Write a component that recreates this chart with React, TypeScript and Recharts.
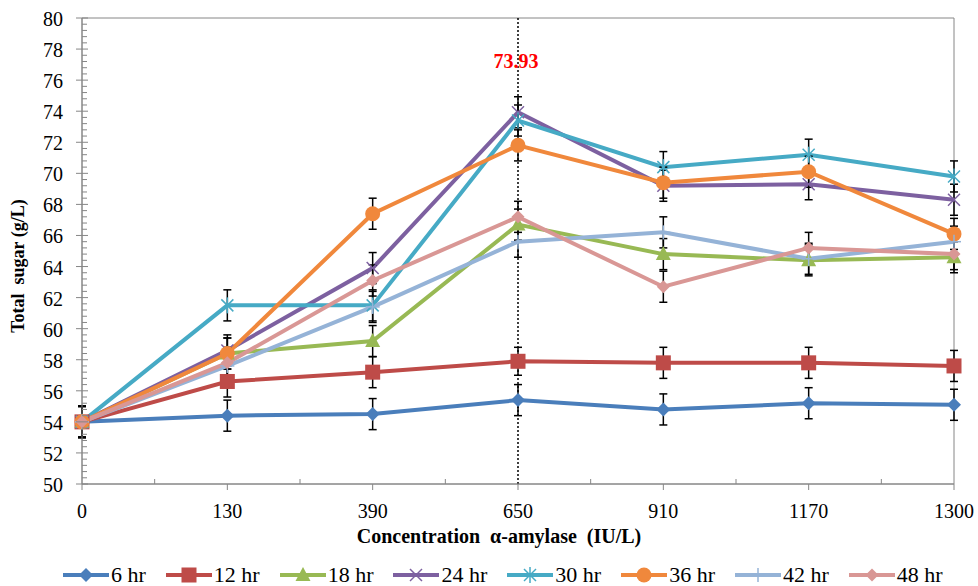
import React from "react";
import {
  LineChart,
  Line,
  XAxis,
  YAxis,
  ErrorBar,
  ReferenceLine,
  ReferenceArea,
} from "recharts";

// ─── Data ─────────────────────────────────────────────────────────────────────

const concentrations = ["0", "130", "390", "650", "910", "1170", "1300"];

const hr6 = [54.0, 54.4, 54.5, 55.4, 54.8, 55.2, 55.1];
const hr12 = [54.0, 56.6, 57.2, 57.9, 57.8, 57.8, 57.6];
const hr18 = [54.0, 58.4, 59.2, 66.7, 64.8, 64.4, 64.6];
const hr24 = [54.0, 58.6, 63.9, 73.93, 69.2, 69.3, 68.3];
const hr30 = [54.0, 61.5, 61.5, 73.4, 70.4, 71.2, 69.8];
const hr36 = [54.0, 58.4, 67.4, 71.8, 69.4, 70.1, 66.1];
const hr42 = [54.0, 57.6, 61.4, 65.6, 66.2, 64.5, 65.6];
const hr48 = [54.0, 57.8, 63.1, 67.2, 62.7, 65.2, 64.8];

const err6 = [1.0, 1.0, 1.0, 1.0, 1.0, 1.0, 1.0];
const err12 = [1.0, 1.0, 1.0, 0.9, 1.0, 1.0, 1.0];
const err18 = [1.0, 1.0, 1.0, 1.0, 1.0, 1.0, 1.0];
const err24 = [1.0, 1.0, 1.0, 1.0, 1.0, 1.0, 1.0];
const err30 = [1.0, 1.0, 1.0, 1.0, 1.0, 1.0, 1.0];
const err36 = [1.0, 1.0, 1.0, 1.0, 1.0, 1.0, 1.0];
const err42 = [1.0, 1.0, 1.0, 1.0, 1.0, 1.0, 1.0];
const err48 = [1.0, 1.0, 1.0, 1.0, 1.0, 1.0, 1.0];

const yTickLabels = [50, 52, 54, 56, 58, 60, 62, 64, 66, 68, 70, 72, 74, 76, 78, 80];
const peakLabel = "73.93";

// ─── Config ───────────────────────────────────────────────────────────────────

type Shape = "diamond" | "square" | "triangle" | "x" | "star" | "circle" | "plus" | "smallDiamond";

const series: { key: string; name: string; values: number[]; err: number[]; color: string; shape: Shape }[] = [
  { key: "h6", name: "6 hr", values: hr6, err: err6, color: "#4A7EBB", shape: "diamond" },
  { key: "h12", name: "12 hr", values: hr12, err: err12, color: "#BE4B48", shape: "square" },
  { key: "h18", name: "18 hr", values: hr18, err: err18, color: "#98B954", shape: "triangle" },
  { key: "h24", name: "24 hr", values: hr24, err: err24, color: "#7D60A0", shape: "x" },
  { key: "h30", name: "30 hr", values: hr30, err: err30, color: "#46AAC5", shape: "star" },
  { key: "h36", name: "36 hr", values: hr36, err: err36, color: "#F0883C", shape: "circle" },
  { key: "h42", name: "42 hr", values: hr42, err: err42, color: "#95B3D7", shape: "plus" },
  { key: "h48", name: "48 hr", values: hr48, err: err48, color: "#D99795", shape: "smallDiamond" },
];

const data = concentrations.map((c, i) => {
  const row: Record<string, number | string> = { idx: i, label: c };
  series.forEach((s) => {
    row[s.key] = s.values[i];
    row[s.key + "Err"] = s.err[i];
  });
  return row;
});

// minor ticks every 0.4 units between the labelled ones
const yTicks: number[] = [];
for (let i = 0; i <= 75; i++) yTicks.push(Math.round((50 + i * 0.4) * 10) / 10);
const xTicks = [0, 0.5, 1, 1.5, 2, 2.5, 3, 3.5, 4, 4.5, 5, 5.5, 6];

const FONT = '"Liberation Serif", "Times New Roman", serif';
const AXIS = "#868686";

if (typeof document !== "undefined") document.body.style.margin = "0";

// ─── Markers ──────────────────────────────────────────────────────────────────

function marker(shape: Shape, color: string, cx: number, cy: number, key?: string | number) {
  switch (shape) {
    case "diamond":
      return <polygon key={key} points={`${cx},${cy - 7} ${cx + 7},${cy} ${cx},${cy + 7} ${cx - 7},${cy}`} fill={color} />;
    case "smallDiamond":
      return <polygon key={key} points={`${cx},${cy - 6.5} ${cx + 6.5},${cy} ${cx},${cy + 6.5} ${cx - 6.5},${cy}`} fill={color} />;
    case "square":
      return <rect key={key} x={cx - 7.5} y={cy - 7.5} width={15} height={15} fill={color} />;
    case "triangle":
      return <polygon key={key} points={`${cx},${cy - 8} ${cx + 7.5},${cy + 6} ${cx - 7.5},${cy + 6}`} fill={color} />;
    case "circle":
      return <circle key={key} cx={cx} cy={cy} r={7.5} fill={color} />;
    case "x":
      return (
        <g key={key} stroke={color} strokeWidth={1.5}>
          <line x1={cx - 6} y1={cy - 6} x2={cx + 6} y2={cy + 6} />
          <line x1={cx - 6} y1={cy + 6} x2={cx + 6} y2={cy - 6} />
        </g>
      );
    case "star":
      return (
        <g key={key} stroke={color} strokeWidth={1.5}>
          <line x1={cx - 6} y1={cy - 6} x2={cx + 6} y2={cy + 6} />
          <line x1={cx - 6} y1={cy + 6} x2={cx + 6} y2={cy - 6} />
          <line x1={cx} y1={cy - 8} x2={cx} y2={cy + 8} />
        </g>
      );
    case "plus":
      return (
        <g key={key} stroke={color} strokeWidth={1.5}>
          <line x1={cx - 7} y1={cy} x2={cx + 7} y2={cy} />
          <line x1={cx} y1={cy - 7} x2={cx} y2={cy + 7} />
        </g>
      );
  }
}

const makeDot = (shape: Shape, color: string) => (props: any) =>
  marker(shape, color, props.cx, props.cy, props.index);

// ─── Ticks ────────────────────────────────────────────────────────────────────

const YTick = (props: any) => {
  const { x, y, payload } = props;
  const v = payload.value as number;
  const major = yTickLabels.some((t) => Math.abs(t - v) < 1e-6);
  return (
    <g>
      {major ? (
        <>
          <line x1={x - 6} y1={y} x2={x + 6} y2={y} stroke={AXIS} />
          <text x={x - 19} y={y + 8} textAnchor="end" fontSize={20} fill="#000" fontFamily={FONT}>
            {v}
          </text>
        </>
      ) : (
        <line x1={x} y1={y} x2={x + 5} y2={y} stroke={AXIS} />
      )}
    </g>
  );
};

const XTick = (props: any) => {
  const { x, y, payload } = props;
  const v = payload.value as number;
  if (Number.isInteger(v)) {
    return (
      <g>
        <line x1={x} y1={y} x2={x} y2={y + 6} stroke={AXIS} />
        <text x={x} y={y + 34} textAnchor="middle" fontSize={20} fill="#000" fontFamily={FONT}>
          {concentrations[v]}
        </text>
      </g>
    );
  }
  return <line x1={x} y1={y - 5} x2={x} y2={y} stroke={AXIS} />;
};

// ─── Legend ───────────────────────────────────────────────────────────────────

const LegendBox = () => (
  <div
    style={{
      position: "absolute",
      left: 0,
      top: 565,
      width: 978,
      display: "flex",
      paddingLeft: 63,
      fontFamily: FONT,
      fontSize: 22,
      lineHeight: "20px",
      color: "#000",
      whiteSpace: "nowrap",
    }}
  >
    {series.map((s) => (
      <div key={s.key} style={{ display: "flex", alignItems: "center", marginRight: 20 }}>
        <svg width={46} height={18} style={{ marginRight: 2 }}>
          <line x1={0} y1={9} x2={46} y2={9} stroke={s.color} strokeWidth={4} />
          {marker(s.shape, s.color, 23, 9)}
        </svg>
        <span>{s.name}</span>
      </div>
    ))}
  </div>
);

// ─── Component ────────────────────────────────────────────────────────────────

export default function App() {
  return (
    <div style={{ position: "relative", width: 978, height: 586 }}>
      <LineChart
        width={978}
        height={586}
        data={data}
        margin={{ top: 18, right: 24, bottom: 0, left: 0 }}
        style={{ fontFamily: FONT }}
      >
        <ReferenceArea x1={0} x2={6} y1={50} y2={80} fill="none" stroke={AXIS} strokeWidth={1} />

        <XAxis
          dataKey="idx"
          type="number"
          domain={[0, 6]}
          ticks={xTicks}
          interval={0}
          tick={<XTick />}
          tickSize={0}
          tickMargin={0}
          tickLine={false}
          axisLine={{ stroke: AXIS }}
          height={102}
          label={{
            content: () => (
              <text
                x={499}
                y={543}
                textAnchor="middle"
                fontSize={20}
                fontWeight="bold"
                fontFamily={FONT}
                fill="#000"
                style={{ whiteSpace: "pre" }}
              >
                Concentration  α-amylase  (IU/L)
              </text>
            ),
          }}
        />
        <YAxis
          type="number"
          domain={[50, 80]}
          ticks={yTicks}
          interval={0}
          tick={<YTick />}
          tickSize={0}
          tickMargin={0}
          tickLine={false}
          axisLine={{ stroke: AXIS }}
          width={82}
          label={{
            content: () => (
              <text
                x={24}
                y={266}
                transform="rotate(-90 24 266)"
                textAnchor="middle"
                fontSize={18}
                fontWeight="bold"
                fontFamily={FONT}
                fill="#000"
                style={{ whiteSpace: "pre" }}
              >
                Total  sugar (g/L)
              </text>
            ),
          }}
        />

        <ReferenceLine
          x={3}
          stroke="#000"
          strokeWidth={1.5}
          strokeDasharray="2 2"
          label={{
            content: (p: any) => (
              <text
                x={p.viewBox.x - 2}
                y={p.viewBox.y + 50}
                textAnchor="middle"
                fontSize={20}
                fontWeight="bold"
                fontFamily={FONT}
                fill="#FF0000"
              >
                {peakLabel}
              </text>
            ),
          }}
        />

        {series.map((s) => (
          <Line
            key={s.key}
            dataKey={s.key}
            name={s.name}
            stroke={s.color}
            strokeWidth={4}
            dot={makeDot(s.shape, s.color)}
            activeDot={false}
            isAnimationActive={false}
          >
            <ErrorBar dataKey={s.key + "Err"} width={4} stroke="#000" strokeWidth={1.5} direction="y" />
          </Line>
        ))}
      </LineChart>
      <LegendBox />
    </div>
  );
}
